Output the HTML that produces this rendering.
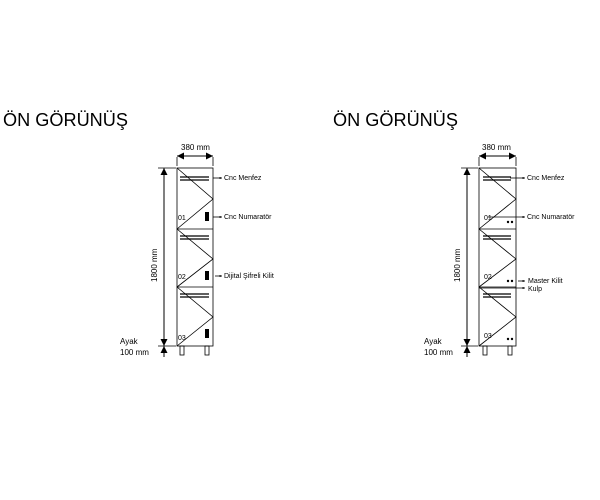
<!DOCTYPE html>
<html><head><meta charset="utf-8"><style>
html,body{margin:0;padding:0;background:#fff;width:600px;height:500px;overflow:hidden}
svg{display:block}
text{font-family:"Liberation Sans",sans-serif;fill:#000}
</style></head><body>
<svg width="600" height="500" viewBox="0 0 600 500" xmlns="http://www.w3.org/2000/svg">
<defs>
<marker id="a" viewBox="0 0 10 10" refX="10" refY="5" markerWidth="7" markerHeight="7" orient="auto-start-reverse"><path d="M0,0 L10,5 L0,10 z" fill="#000"/></marker>
<marker id="s" viewBox="0 0 10 10" refX="10" refY="5" markerWidth="3" markerHeight="3" orient="auto"><path d="M0,0 L10,5 L0,10 z" fill="#000"/></marker>
</defs>
<text x="3" y="126" font-size="18" textLength="125" lengthAdjust="spacingAndGlyphs">ÖN GÖRÜNÜŞ</text>
<text x="333" y="126" font-size="18" textLength="125" lengthAdjust="spacingAndGlyphs">ÖN GÖRÜNÜŞ</text>

<!-- LEFT -->
<g stroke="#000" fill="none" stroke-width="0.8">
<rect x="177" y="168" width="36" height="178"/>
<line x1="177" y1="229" x2="213" y2="229"/>
<line x1="177" y1="287" x2="213" y2="287"/>
<polyline points="177,168 213,199 177,229"/>
<polyline points="177,229 213,259 177,287"/>
<polyline points="177,287 213,317 177,346"/>
<rect x="180" y="346" width="4" height="9"/><rect x="205" y="346" width="4" height="9"/>
<line x1="177" y1="157" x2="177" y2="166"/><line x1="213" y1="157" x2="213" y2="166"/>
<line x1="177" y1="156" x2="213" y2="156" stroke-width="1" marker-start="url(#a)" marker-end="url(#a)"/>
<line x1="158" y1="168" x2="176" y2="168"/><line x1="158" y1="346" x2="176" y2="346"/>
<line x1="164" y1="168" x2="164" y2="346" stroke-width="1" marker-start="url(#a)" marker-end="url(#a)"/>
<line x1="164" y1="346" x2="164" y2="357" stroke-width="1" marker-start="url(#a)"/>
<line x1="213" y1="178" x2="222" y2="178" marker-end="url(#s)"/>
<line x1="213" y1="217" x2="222" y2="217" marker-end="url(#s)"/>
<line x1="215" y1="276" x2="222" y2="276" marker-end="url(#s)"/>
</g>
<g stroke="#000" stroke-width="1.2">
<line x1="180" y1="177" x2="209" y2="177"/><line x1="180" y1="180" x2="209" y2="180"/>
<line x1="180" y1="236" x2="209" y2="236"/><line x1="180" y1="239" x2="209" y2="239"/>
<line x1="180" y1="294" x2="209" y2="294"/><line x1="180" y1="297" x2="209" y2="297"/>
</g>
<g fill="#000"><rect x="205" y="212" width="4" height="9"/><rect x="205" y="271" width="4" height="9"/><rect x="205" y="329" width="4" height="9"/></g>
<g font-size="7">
<text x="178" y="220">01</text><text x="178" y="279">02</text><text x="178" y="340">03</text>
<text x="224" y="180">Cnc Menfez</text>
<text x="224" y="219">Cnc Numaratör</text>
<text x="224" y="278">Dijital Şifreli Kilit</text>
<text x="181" y="150" font-size="8">380 mm</text>
<text x="120" y="344" font-size="8">Ayak</text>
<text x="120" y="355" font-size="8">100 mm</text>
<text transform="translate(157,282) rotate(-90)" font-size="8">1800 mm</text>
</g>

<!-- RIGHT -->
<g stroke="#000" fill="none" stroke-width="0.8">
<rect x="479" y="168" width="37" height="178"/>
<line x1="479" y1="229" x2="516" y2="229"/>
<line x1="479" y1="287" x2="516" y2="287"/>
<polyline points="479,168 516,199 479,229"/>
<polyline points="479,229 516,259 479,287"/>
<polyline points="479,287 516,317 479,346"/>
<rect x="483" y="346" width="4" height="9"/><rect x="508" y="346" width="4" height="9"/>
<line x1="479" y1="157" x2="479" y2="166"/><line x1="516" y1="157" x2="516" y2="166"/>
<line x1="479" y1="156" x2="516" y2="156" stroke-width="1" marker-start="url(#a)" marker-end="url(#a)"/>
<line x1="461" y1="168" x2="478" y2="168"/><line x1="461" y1="346" x2="478" y2="346"/>
<line x1="467" y1="168" x2="467" y2="346" stroke-width="1" marker-start="url(#a)" marker-end="url(#a)"/>
<line x1="467" y1="346" x2="467" y2="357" stroke-width="1" marker-start="url(#a)"/>
<line x1="510" y1="178" x2="525" y2="178" marker-end="url(#s)"/>
<line x1="488" y1="217" x2="525" y2="217" marker-end="url(#s)"/>
<line x1="518" y1="281" x2="525" y2="281" marker-end="url(#s)"/>
<line x1="479" y1="288" x2="525" y2="288" marker-end="url(#s)"/>
</g>
<g stroke="#000" stroke-width="1.2">
<line x1="483" y1="177" x2="511" y2="177"/><line x1="483" y1="180" x2="511" y2="180"/>
<line x1="483" y1="236" x2="511" y2="236"/><line x1="483" y1="239" x2="511" y2="239"/>
<line x1="483" y1="294" x2="511" y2="294"/><line x1="483" y1="297" x2="511" y2="297"/>
</g>
<g fill="#000">
<circle cx="508" cy="222" r="1.2"/><circle cx="512" cy="222" r="1.2"/>
<circle cx="508" cy="281" r="1.2"/><circle cx="512" cy="281" r="1.2"/>
<circle cx="508" cy="339" r="1.2"/><circle cx="512" cy="339" r="1.2"/>
</g>
<g font-size="7">
<text x="484" y="220">01</text><text x="484" y="279">02</text><text x="484" y="338">03</text>
<text x="527" y="180">Cnc Menfez</text>
<text x="527" y="219">Cnc Numaratör</text>
<text x="528" y="283">Master Kilit</text>
<text x="528" y="291">Kulp</text>
<text x="482" y="150" font-size="8">380 mm</text>
<text x="424" y="344" font-size="8">Ayak</text>
<text x="424" y="355" font-size="8">100 mm</text>
<text transform="translate(460,282) rotate(-90)" font-size="8">1800 mm</text>
</g>
</svg>
</body></html>
